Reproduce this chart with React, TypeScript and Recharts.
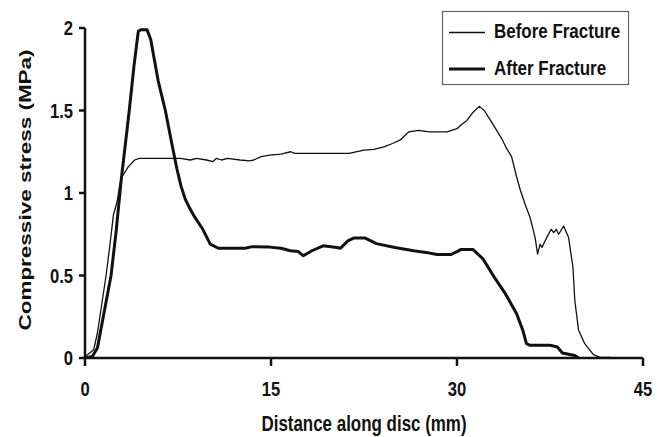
import React from "react";
import { LineChart, Line, XAxis, YAxis, Customized } from "recharts";

const SERIES_NAMES = ["Before Fracture", "After Fracture"];
const X_TICKS = [0, 15, 30, 45];
const Y_TICKS = [0, 0.5, 1, 1.5, 2];
const X_TITLE = "Distance along disc (mm)";
const Y_TITLE = "Compressive stress (MPa)";

const BEFORE_X = [0, 0.2, 0.7, 1.0, 1.3, 1.7, 2.0, 2.3, 2.6, 2.8, 3.0, 3.5, 4.0, 4.4, 6, 7.7, 8.5, 9.0, 9.8, 10.3, 10.6, 11.0, 11.5, 12.5, 13.3, 13.6, 14.2, 14.9, 15.8, 16.6, 16.9, 18, 20, 21.3, 22.5, 23.3, 24.1, 24.8, 25.4, 26.1, 26.9, 27.8, 28.5, 29.2, 30.0, 30.3, 30.8, 31.3, 31.8, 32.2, 32.7, 33.2, 33.6, 34.0, 34.4, 34.8, 35.1, 35.5, 35.9, 36.3, 36.5, 36.7, 36.85, 37.3, 37.6, 37.8, 38.0, 38.2, 38.6, 39.0, 39.35, 39.5, 39.8, 40.3, 41.0, 41.5, 42.4];
const BEFORE_Y = [0.01, 0.02, 0.05, 0.15, 0.3, 0.5, 0.68, 0.87, 0.95, 1.05, 1.1, 1.16, 1.2, 1.21, 1.21, 1.21, 1.2, 1.21, 1.2, 1.19, 1.21, 1.2, 1.21, 1.2, 1.195, 1.2, 1.22, 1.23, 1.235, 1.25, 1.24, 1.24, 1.24, 1.24, 1.26, 1.265, 1.28, 1.3, 1.32, 1.37, 1.38, 1.37, 1.37, 1.37, 1.39, 1.41, 1.44, 1.49, 1.525, 1.5, 1.44, 1.38, 1.33, 1.27, 1.22, 1.1, 1.02, 0.93, 0.85, 0.73, 0.63, 0.69, 0.67, 0.74, 0.78, 0.76, 0.78, 0.75, 0.8, 0.73, 0.55, 0.35, 0.17, 0.087, 0.02, 0.005, 0.003];

const AFTER_X = [0, 0.6, 1.0, 1.3, 1.7, 2.1, 2.5, 2.92, 3.57, 3.95, 4.3, 4.5, 5.0, 5.3, 5.9, 6.48, 7.0, 7.4, 7.75, 8.1, 8.5, 8.8, 9.5, 10.1, 10.75, 12.9, 13.5, 14.9, 15.8, 16.56, 17.2, 17.6, 18.3, 19.2, 20.3, 20.6, 21.2, 21.66, 22.6, 23.5, 25, 26.5, 27.5, 28.4, 29.5, 30.0, 30.3, 31.3, 32.1, 33.0, 33.9, 34.8, 35.3, 35.6, 35.9, 37.5, 38.1, 38.5, 39.5, 39.8];
const AFTER_Y = [0, 0.01, 0.06, 0.18, 0.34, 0.5, 0.76, 1.08, 1.5, 1.77, 1.98, 1.99, 1.99, 1.93, 1.68, 1.5, 1.3, 1.15, 1.04, 0.96, 0.9, 0.86, 0.78, 0.69, 0.665, 0.665, 0.675, 0.672, 0.665, 0.65, 0.645, 0.62, 0.65, 0.68, 0.67, 0.665, 0.71, 0.727, 0.727, 0.693, 0.67, 0.65, 0.64, 0.627, 0.627, 0.645, 0.657, 0.657, 0.6, 0.49, 0.39, 0.27, 0.17, 0.087, 0.077, 0.077, 0.067, 0.03, 0.015, 0];

const beforeData = BEFORE_X.map((x, i) => ({ x, y: BEFORE_Y[i] }));
const afterData = AFTER_X.map((x, i) => ({ x, y: AFTER_Y[i] }));

const FONT = "'Liberation Sans', Arial, sans-serif";
const INK = "#111";

function NarrowText(props: { x: number; y: number; size: number; sx: number; anchor?: string; children: React.ReactNode; rotate?: boolean }) {
  const { x, y, size, sx, anchor = "start", children, rotate } = props;
  const transform = rotate
    ? `translate(${x},${y}) rotate(-90) scale(1,${sx})`
    : `translate(${x},${y}) scale(${sx},1)`;
  return (
    <text
      transform={transform}
      x={0}
      y={0}
      textAnchor={anchor as any}
      fontFamily={FONT}
      fontWeight="bold"
      fontSize={size}
      fill={INK}
    >
      {children}
    </text>
  );
}

const XTick = (p: any) => (
  <NarrowText x={p.x} y={p.y + 28} size={20} sx={0.83} anchor="middle">
    {p.payload.value}
  </NarrowText>
);

const YTick = (p: any) => (
  <NarrowText x={p.x - 4} y={p.y + 7} size={20} sx={0.83} anchor="end">
    {p.payload.value}
  </NarrowText>
);

const Decorations = () => (
  <g>
    <NarrowText x={364} y={431} size={22} sx={0.77} anchor="middle">
      {X_TITLE}
    </NarrowText>
    <NarrowText x={31} y={190} size={22.5} sx={0.75} anchor="middle" rotate>
      {Y_TITLE}
    </NarrowText>
    <rect x={442.5} y={11.5} width={186} height={73} fill="#fff" stroke="#666" strokeWidth={1.2} />
    <line x1={449} x2={485} y1={32.5} y2={32.5} stroke={INK} strokeWidth={1.3} />
    <line x1={449} x2={485} y1={69} y2={69} stroke={INK} strokeWidth={3} />
    <NarrowText x={494} y={38} size={19.5} sx={0.87}>
      {SERIES_NAMES[0]}
    </NarrowText>
    <NarrowText x={494} y={74.5} size={19.5} sx={0.87}>
      {SERIES_NAMES[1]}
    </NarrowText>
  </g>
);

export default function App() {
  return (
    <div style={{ position: "absolute", left: 0, top: 0, width: 664, height: 437, background: "#fff" }}>
      <LineChart width={664} height={437} margin={{ top: 28, right: 21, left: 0, bottom: 0 }}>
        <XAxis
          type="number"
          dataKey="x"
          domain={[0, 45]}
          ticks={X_TICKS}
          height={79}
          tickSize={8}
          axisLine={{ stroke: INK, strokeWidth: 2.5 }}
          tickLine={{ stroke: INK, strokeWidth: 2.5 }}
          tick={<XTick />}
          allowDataOverflow
          interval={0}
        />
        <YAxis
          type="number"
          dataKey="y"
          domain={[0, 2]}
          ticks={Y_TICKS}
          width={85}
          tickSize={6}
          axisLine={{ stroke: INK, strokeWidth: 2.5 }}
          tickLine={{ stroke: INK, strokeWidth: 2.5 }}
          tick={<YTick />}
          allowDataOverflow
          interval={0}
        />
        <Line
          data={beforeData}
          dataKey="y"
          name={SERIES_NAMES[0]}
          type="linear"
          stroke={INK}
          strokeWidth={1.3}
          dot={false}
          isAnimationActive={false}
          strokeLinejoin="round"
        />
        <Line
          data={afterData}
          dataKey="y"
          name={SERIES_NAMES[1]}
          type="linear"
          stroke={INK}
          strokeWidth={3}
          dot={false}
          isAnimationActive={false}
          strokeLinejoin="round"
        />
        <Customized component={Decorations} />
      </LineChart>
    </div>
  );
}
